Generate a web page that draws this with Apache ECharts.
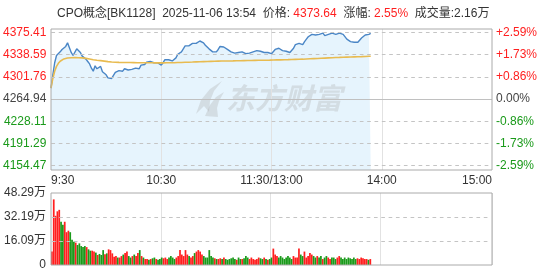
<!DOCTYPE html>
<html><head><meta charset="utf-8">
<script src="https://cdn.jsdelivr.net/npm/echarts@6/dist/echarts.min.js"></script>
<style>html,body{margin:0;padding:0;background:#fff}#c{width:554px;height:274px}</style>
</head><body><div id="c"></div>
<script>
const preClose = 4264.94;
const priceTicks = ['4154.47','4191.29','4228.11','4264.94','4301.76','4338.59','4375.41'];
const pctTicks = ['-2.59%','-1.73%','-0.86%','0.00%','+0.86%','+1.73%','+2.59%'];
const volTicks = ['0','16.09万','32.19万','48.29万'];
const timeTicks = ['9:30','10:30','11:30/13:00','14:00','15:00'];
const titleName = 'CPO概念[BK1128]';
const titleTime = '2025-11-06 13:54';
const titlePrice = '4373.64';
const titleChg = '2.55%';
const titleVol = '2.16万';

const price = [
4283,4305,4325,4337,4340,4343,4347,4348,4352,4358,
4360,4342,4337,4339,4348,4345,4342,4336,4333,4331,
4327,4323,4316,4311,4320,4315,4317,4319,4310,4307,
4305,4300,4297,4299,4304,4309,4311,4312,4313,4311,
4315,4318,4313,4312,4314,4313,4316,4317,4315,4321,
4320,4322,4326,4326,4327,4325,4325,4327,4325,4322,
4321,4325,4330,4331,4330,4329,4328,4327,4333,4339,
4341,4343,4346,4353,4354,4353,4356,4357,4355,4357,
4359,4361,4363,4358,4354,4351,4348,4345,4343,4346,
4343,4347,4352,4349,4351,4349,4347,4345,4343,4342,
4341,4343,4342,4341,4343,4342,4340,4338,4341,4342,
4343,4344,4345,4346,4344,4341,4342,4341,4342,4341,
4340,4343,4347,4350,4349,4347,4345,4345,4344,4342,
4342,4341,4349,4355,4357,4357,4356,4355,4360,4364,
4368,4370,4372,4372,4371,4373,4372,4372,4374,4370,
4368,4372,4374,4374,4373,4372,4374,4374,4372,4372,
4369,4364,4361,4360,4359,4359,4358,4359,4362,4366,
4369,4371,4373,4372,4373.64
];
const avg = [
4283,4299,4311,4319,4324,4327.5,4330,4331.3,4332.2,4332.8,
4333.2,4333.3,4333.4,4333.4,4333.4,4333.3,4333.2,4333,4332.6,4332.2,
4331.7,4331.2,4330.5,4329.9,4329.5,4329.1,4328.8,4328.5,4328.1,4327.7,
4327.3,4326.9,4326.5,4326.2,4326,4325.8,4325.7,4325.6,4325.6,4325.5,
4325.5,4325.4,4325.4,4325.3,4325.3,4325.2,4325.2,4325.1,4325.1,4325.1,
4325,4325,4325,4324.9,4324.9,4324.9,4324.8,4324.8,4324.8,4324.8,
4324.8,4324.8,4324.9,4324.9,4325,4325,4325.1,4325.1,4325.2,4325.3,
4325.4,4325.5,4325.6,4325.7,4325.8,4325.9,4326,4326.1,4326.3,4326.4,
4326.6,4326.7,4326.8,4326.9,4327,4327.1,4327.2,4327.3,4327.4,4327.5,
4327.6,4327.7,4327.7,4327.8,4327.9,4327.9,4328,4328,4328.1,4328.1,
4328.2,4328.3,4328.3,4328.4,4328.4,4328.5,4328.5,4328.6,4328.7,4328.7,
4328.8,4328.9,4328.9,4329,4329,4329.1,4329.2,4329.2,4329.3,4329.3,
4329.4,4329.5,4329.6,4329.7,4329.8,4329.8,4329.9,4330,4330,4330.1,
4330.2,4330.3,4330.4,4330.5,4330.6,4330.7,4330.8,4330.9,4331.1,4331.2,
4331.4,4331.5,4331.7,4331.8,4332,4332.1,4332.3,4332.4,4332.6,4332.7,
4332.8,4333,4333.1,4333.3,4333.4,4333.6,4333.7,4333.8,4334,4334.1,
4334.2,4334.3,4334.4,4334.5,4334.6,4334.7,4334.8,4334.9,4335,4335.1,
4335.2,4335.4,4335.5,4335.7,4335.8
];
// volume per minute, in 万
const vol = [
9,44,33,36,37,29,27,29,22,23,
22,17,15.6,15,13.4,14.5,12.7,12,12.7,12,
10.5,9.6,9.6,9,8.3,6.7,7.4,6.7,10,7.2,
7.8,10.5,10,7.8,5.6,6,5,5,6,7,
8,9,6,5,6,7,6,8,10,6,
5,4,4,3.5,4,4.5,5,4,3.5,4,
5,4.5,5,4,5,6,5,4,5,6,
10,7,6,10,7,6,5,6,8,9,
10,9,7,6,5,5,10,6,5,4.5,
4,4,4.5,4,5,4,3.5,4,4.5,5,
4,3.5,5,4,4,4.5,6,5,4,5,
4,3.5,4,5,4.5,4,5,4,3.5,4,
5,11,7,6,5,6,5,4,5,6,
5,4,6,5,5,11,7,6,9,5,
6,8,7,6,5,6,5,6,4,5,
6,5,4,5,5,4,5,6,5,4,
5,4,5,4.5,4,5,4,4.5,4,5,
4.5,4,4,3.5,4
];
// 1 = up minute (red), -1 = down minute (green)
const dir = [
1,1,1,1,1,-1,-1,1,1,1,
-1,-1,-1,1,-1,-1,-1,-1,-1,1,
-1,-1,1,1,-1,1,-1,-1,-1,1,
-1,1,1,1,1,1,-1,1,1,-1,
1,1,-1,-1,1,-1,1,1,-1,1,
-1,1,1,-1,1,-1,-1,1,-1,-1,
-1,1,1,1,-1,-1,-1,-1,1,1,
1,1,1,1,1,-1,1,1,-1,1,
1,1,1,-1,-1,-1,-1,-1,-1,1,
-1,1,1,-1,1,-1,-1,-1,-1,-1,
-1,1,-1,-1,1,-1,-1,-1,1,1,
1,1,1,1,-1,-1,1,-1,1,-1,
-1,1,1,1,-1,-1,-1,-1,-1,-1,
-1,-1,1,1,1,1,-1,-1,1,1,
1,1,1,-1,-1,1,-1,-1,1,-1,
-1,1,1,-1,-1,-1,1,1,-1,-1,
-1,-1,-1,-1,-1,-1,-1,1,1,1,
1,1,1,-1,1
];

const times = [];
for (let m = 0; m <= 240; m++) {
  let t = m <= 120 ? 570 + m : 780 + (m - 120);
  times.push(Math.floor(t / 60) + ':' + String(t % 60).padStart(2, '0'));
}

const RED = '#ff1f1f', GREEN = '#1a9a1a', GRAY = '#444';
const FONT = "'Liberation Sans', Arial, 'Noto Sans CJK SC', sans-serif";
const pMin = 4154.47, pMax = 4375.41;
const vMax = 48.29;
const pScale = (pMax - preClose) / 66.7; // value per pixel
const chart = echarts.init(document.getElementById('c'), null, {renderer: 'canvas'});
const isMajor = i => i % 60 === 0;
const WM = 'rgba(170,170,170,0.30)';
const DASH = '#c4c4c4';

// dashed guide lines built as short solid segments along the time axis (axis units)
function dashSegments(level, lastIndex) {
  const segs = [];
  for (let k = 0; k + 2 <= lastIndex; k += 4) {
    segs.push([{coord: [k, level]}, {coord: [k + 2, level]}]);
  }
  return segs;
}
let priceGuides = [];
priceTicks.map(Number).forEach(v => {
  if (Math.abs(v - preClose) < 0.5) return;
  priceGuides = priceGuides.concat(dashSegments(v, 240));
});
let volGuides = [];
[vMax / 3, 2 * vMax / 3].forEach(v => { volGuides = volGuides.concat(dashSegments(v, 240)); });

chart.setOption({
  animation: false,
  textStyle: {fontFamily: FONT},
  title: {
    left: 57, top: 8, padding: 0,
    text: '{g|' + titleName + '  ' + titleTime + '  价格: }{r|' + titlePrice + '}{g|  涨幅: }{r|' + titleChg + '}{g|  成交量:' + titleVol + '}',
    textStyle: {fontWeight: 'normal', rich: {
      g: {fontSize: 12, color: '#333', fontFamily: FONT, fontWeight: 'normal'},
      r: {fontSize: 12, color: RED, fontFamily: FONT, fontWeight: 'normal'}
    }}
  },
  graphic: [
    {type: 'polygon', silent: true, z: 1,
      shape: {points: [[196,114],[201,100],[210,89],[222,81],[214,91],[210,101],[209,112],[204,106]]},
      style: {fill: WM}},
    {type: 'polygon', silent: true, z: 1,
      shape: {points: [[205,116],[210,105],[216,97],[224,92],[219,101],[217,108],[218,117]]},
      style: {fill: WM}},
    {type: 'text', left: 226, top: 83, silent: true, z: 1,
      style: {text: '东方财富', font: "italic bold 29px 'Noto Sans CJK SC'", fill: WM}}
  ],
  grid: [
    {left: 51, top: 29, width: 441, height: 141, show: true, borderColor: '#aaa', borderWidth: 1, backgroundColor: 'transparent', z: 6},
    {left: 51, top: 32.3, width: 441, height: 133.4},
    {left: 51, top: 193, width: 441, height: 72, show: true, borderColor: '#aaa', borderWidth: 1, backgroundColor: 'transparent', z: 6}
  ],
  xAxis: [
    {gridIndex: 0, type: 'category', data: times, boundaryGap: false, z: 2,
      axisLine: {show: false}, axisTick: {show: false},
      axisLabel: {interval: (i) => isMajor(i), formatter: (v, i) => timeTicks[i / 60] || '',
        color: '#333', fontSize: 12, margin: 5, alignMinLabel: 'left', alignMaxLabel: 'right', fontFamily: FONT},
      splitLine: {show: true, interval: (i) => isMajor(i) && i > 0 && i < 240, lineStyle: {color: '#e2e2e2', width: 1}}},
    {gridIndex: 1, type: 'category', data: times, boundaryGap: false,
      axisLine: {show: false}, axisTick: {show: false}, axisLabel: {show: false}, splitLine: {show: false}},
    {gridIndex: 2, type: 'category', data: times, boundaryGap: true,
      axisLine: {show: false}, axisTick: {show: false}, axisLabel: {show: false},
      splitLine: {show: true, interval: (i) => isMajor(i) && i > 0 && i < 240, lineStyle: {color: '#e2e2e2', width: 1}}}
  ],
  yAxis: [
    {gridIndex: 0, type: 'value', min: preClose - 71 * pScale, max: preClose + 70 * pScale, show: false},
    {gridIndex: 1, type: 'value', position: 'left', min: pMin, max: pMax, interval: (pMax - pMin) / 6,
      axisLine: {show: false}, axisTick: {show: false},
      axisLabel: {formatter: (v, i) => priceTicks[i], fontSize: 12, margin: 5, fontFamily: FONT,
        color: (v, i) => (v > preClose + 1 ? RED : (v < preClose - 1 ? GREEN : GRAY))},
      splitLine: {show: false}},
    {gridIndex: 1, type: 'value', position: 'right', min: -2.59, max: 2.59, interval: 2.59 / 3,
      axisLine: {show: false}, axisTick: {show: false}, splitLine: {show: false},
      axisLabel: {formatter: (v, i) => pctTicks[i], fontSize: 12, margin: 4, fontFamily: FONT,
        color: (v) => (v > 0.01 ? RED : (v < -0.01 ? GREEN : GRAY))}},
    {gridIndex: 2, type: 'value', min: 0, max: vMax, interval: vMax / 3,
      axisLine: {show: false}, axisTick: {show: false},
      axisLabel: {formatter: (v, i) => volTicks[i], fontSize: 12, margin: 5, color: '#333', fontFamily: FONT},
      splitLine: {show: false}}
  ],
  series: [
    {type: 'line', xAxisIndex: 0, yAxisIndex: 0, data: price, showSymbol: false, z: 0,
      lineStyle: {width: 0, opacity: 0},
      areaStyle: {color: '#e6f4fd', origin: 'start', opacity: 1}},
    {type: 'line', xAxisIndex: 1, yAxisIndex: 1, data: [], showSymbol: false, silent: true, z: 1,
      markLine: {silent: true, symbol: 'none', label: {show: false}, animation: false,
        lineStyle: {color: DASH, type: 'solid', width: 1, opacity: 1},
        data: priceGuides}},
    {type: 'line', xAxisIndex: 0, yAxisIndex: 0, data: price, showSymbol: false, z: 3,
      lineStyle: {color: '#4a86c6', width: 1.4},
      markLine: {silent: true, symbol: 'none', label: {show: false},
        lineStyle: {color: '#c0c0c0', type: 'solid', width: 1},
        data: [{yAxis: preClose}]}},
    {type: 'line', xAxisIndex: 0, yAxisIndex: 0, data: avg, showSymbol: false, z: 4,
      lineStyle: {color: '#e8bb50', width: 1.6}},
    {type: 'bar', xAxisIndex: 2, yAxisIndex: 3, barCategoryGap: '5%', z: 2,
      data: vol.map((v, i) => ({value: v, itemStyle: {color: dir[i] > 0 ? RED : GREEN}}))},
    {type: 'line', xAxisIndex: 2, yAxisIndex: 3, data: [], showSymbol: false, silent: true, z: 1,
      markLine: {silent: true, symbol: 'none', label: {show: false}, animation: false,
        lineStyle: {color: DASH, type: 'solid', width: 1, opacity: 1},
        data: volGuides}}
  ]
});
</script></body></html>
